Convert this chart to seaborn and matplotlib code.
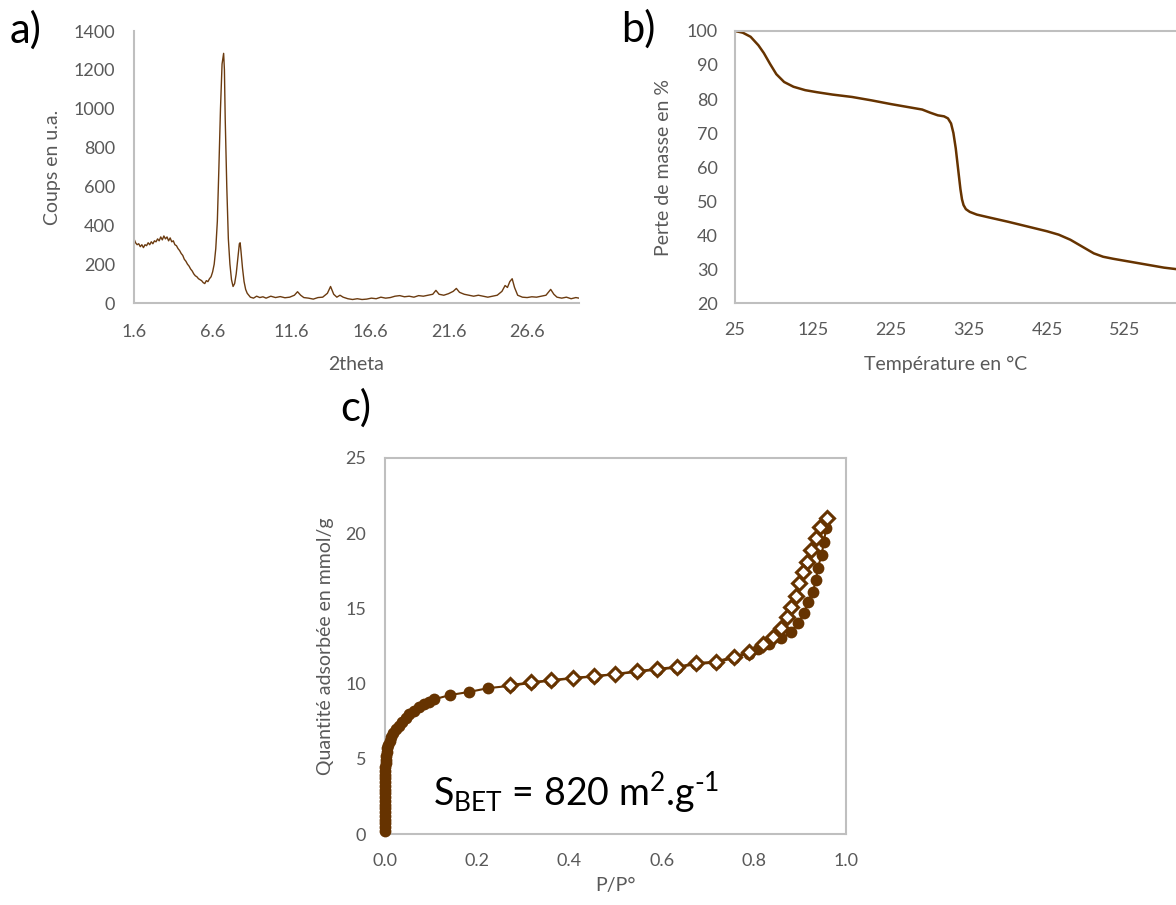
import matplotlib
matplotlib.use('Agg')
import numpy as np
import matplotlib.pyplot as plt
import seaborn as sns

# a) diffractogramme (2theta, coups)
xrd_2theta = [1.6, 1.7, 1.8, 1.9, 2.0, 2.1, 2.2, 2.3, 2.4, 2.5, 2.6, 2.7, 2.8, 2.9, 3.0,
              3.1, 3.2, 3.3, 3.4, 3.5, 3.6, 3.7, 3.8, 3.9, 4.0, 4.1, 4.2, 4.3, 4.4, 4.5,
              4.6, 4.7, 4.8, 4.9, 5.0, 5.1, 5.2, 5.3, 5.4, 5.5, 5.6, 5.7, 5.8, 5.9, 6.0,
              6.1, 6.2, 6.3, 6.4, 6.5, 6.6, 6.7, 6.8, 6.9, 7.0, 7.1, 7.2, 7.3, 7.35, 7.4,
              7.5, 7.6, 7.7, 7.8, 7.9, 8.0, 8.1, 8.2, 8.3, 8.35, 8.4, 8.5, 8.6, 8.7, 8.8,
              8.9, 9.0, 9.2, 9.4, 9.6, 9.8, 10.0, 10.3, 10.6, 10.9, 11.2, 11.5, 11.8, 12.0,
              12.2, 12.4, 12.7, 13.0, 13.3, 13.6, 13.9, 14.1, 14.3, 14.5, 14.7, 14.9, 15.2,
              15.5, 15.8, 16.1, 16.4, 16.7, 17.0, 17.3, 17.6, 17.9, 18.2, 18.5, 18.8, 19.1,
              19.4, 19.7, 20.0, 20.3, 20.6, 20.8, 21.0, 21.3, 21.6, 21.9, 22.1, 22.3, 22.6,
              22.9, 23.2, 23.5, 23.8, 24.1, 24.4, 24.7, 25.0, 25.2, 25.35, 25.5, 25.65, 25.8,
              26.0, 26.3, 26.6, 26.9, 27.2, 27.5, 27.8, 28.1, 28.3, 28.5, 28.8, 29.1, 29.4,
              29.7, 29.9]
xrd_counts = [330, 310, 300, 305, 290, 300, 285, 300, 295, 310, 300, 315, 305, 320, 315,
              330, 320, 340, 325, 345, 330, 340, 320, 335, 315, 320, 300, 295, 280, 270,
              255, 245, 225, 215, 200, 190, 175, 165, 150, 140, 135, 125, 120, 115, 105,
              100, 115, 110, 125, 135, 160, 200, 280, 420, 700, 1000, 1230, 1285, 1200, 950,
              600, 330, 200, 120, 85, 100, 150, 230, 305, 310, 270, 180, 110, 70, 50,
              40, 30, 25, 35, 28, 32, 25, 35, 28, 33, 27, 30, 40, 58,
              40, 28, 25, 20, 28, 30, 50, 85, 45, 30, 40, 30, 22,
              18, 22, 18, 20, 25, 22, 30, 25, 28, 35, 38, 32, 35,
              30, 38, 35, 40, 45, 65, 45, 40, 48, 60, 75, 55, 45,
              40, 35, 40, 35, 30, 35, 40, 60, 90, 80, 110, 125, 80,
              40, 30, 28, 32, 30, 35, 40, 70, 45, 30, 25, 30, 22,
              28, 25]

# b) ATG
tga_temp = [25, 35, 45, 55, 62, 70, 78, 88, 100, 115, 130, 150, 175, 200, 225, 250, 265,
            275, 285, 293, 298, 302, 305, 308, 311, 314, 316, 318, 321, 326, 335, 350,
            375, 400, 425, 440, 455, 470, 485, 497, 510, 530, 555, 575, 600]
tga_mass = [100, 99.5, 98.3, 95.8, 93.5, 90.3, 87.3, 85.0, 83.6, 82.6, 82.0, 81.3, 80.6,
            79.6, 78.5, 77.5, 76.9, 76.0, 75.2, 74.9, 74.3, 72.8, 70.0, 65.5, 59.5, 53.5,
            50.5, 48.8, 47.6, 46.8, 46.0, 45.2, 43.9, 42.5, 41.1, 40.1, 38.6, 36.6, 34.6,
            33.6, 33.0, 32.2, 31.2, 30.4, 29.7]

# c) isotherme N2 : adsorption / desorption
ads_p = [0, 0, 0, 0, 0, 0, 0, 0, 0.0001, 0.0001, 0.0001, 0.0002, 0.0002, 0.0003, 0.0004,
         0.0005, 0.0007, 0.0009, 0.0012, 0.0016, 0.0025, 0.0035, 0.0048, 0.0065, 0.010,
         0.013, 0.018, 0.023, 0.030, 0.037, 0.045, 0.053, 0.062, 0.073, 0.085, 0.095,
         0.106, 0.141, 0.183, 0.224, 0.271, 0.317, 0.361, 0.407, 0.453, 0.499, 0.546,
         0.590, 0.634, 0.675, 0.717, 0.757, 0.789, 0.810, 0.833, 0.859, 0.880, 0.896,
         0.909, 0.917, 0.928, 0.935, 0.939, 0.947, 0.952, 0.957]
ads_q = [0.2, 0.45, 0.7, 0.95, 1.2, 1.45, 1.7, 1.95, 2.2, 2.45, 2.7, 2.95, 3.2, 3.45, 3.7,
         3.95, 4.2, 4.45, 4.7, 4.95, 5.2, 5.45, 5.7, 5.95, 6.2,
         6.45, 6.7, 6.95, 7.2, 7.45, 7.7, 7.95, 8.2, 8.45, 8.65, 8.8,
         8.95, 9.24, 9.45, 9.7, 9.85, 10.05, 10.2, 10.35, 10.47, 10.62, 10.78,
         10.93, 11.07, 11.3, 11.4, 11.7, 12.0, 12.3, 12.6, 13.0, 13.4, 14.0,
         14.7, 15.4, 16.1, 16.9, 17.7, 18.55, 19.4, 20.35]
des_p = [0.959, 0.943, 0.935, 0.924, 0.915, 0.906, 0.899, 0.891, 0.880, 0.872, 0.859,
         0.841, 0.820, 0.789, 0.757, 0.717, 0.675, 0.634, 0.590, 0.546, 0.499, 0.453,
         0.407, 0.361, 0.317, 0.271]
des_q = [21.0, 20.4, 19.7, 18.9, 18.1, 17.4, 16.7, 15.8, 15.1, 14.4, 13.7,
         13.1, 12.6, 12.1, 11.8, 11.45, 11.37, 11.11, 10.98, 10.82, 10.64, 10.49,
         10.38, 10.23, 10.09, 9.89]

BROWN = '#663300'
LINE_BROWN = '#6B3B10'
AXIS_GREY = '#BFBFBF'
TEXT_GREY = '#595959'

sns.set_theme(style='white')
plt.rcParams['font.family'] = ['Lato', 'DejaVu Sans']
plt.rcParams['mathtext.fontset'] = 'custom'
plt.rcParams['mathtext.rm'] = 'Lato'
plt.rcParams['mathtext.it'] = 'Lato:italic'
plt.rcParams['axes.labelcolor'] = TEXT_GREY
plt.rcParams['axes.labelsize'] = 14

W, H = 1176, 905
fig = plt.figure(figsize=(W / 100, H / 100), dpi=100)


def px_axes(left, top, right, bottom):
    return fig.add_axes([left / W, 1 - bottom / H, (right - left) / W, (bottom - top) / H])


def style_axes(ax, spines, tick_len, xpad, ypad):
    for side in ['left', 'right', 'top', 'bottom']:
        ax.spines[side].set_visible(side in spines)
        ax.spines[side].set_color(AXIS_GREY)
        ax.spines[side].set_linewidth(1.5)
    ax.tick_params(axis='both', direction='in', length=tick_len, width=1.5,
                   color=AXIS_GREY, labelcolor=TEXT_GREY, labelsize=13)
    ax.tick_params(axis='x', pad=xpad)
    ax.tick_params(axis='y', pad=ypad)
    ax.grid(False)


# ---- a) ----
ax_a = px_axes(134, 31, 579, 303)
sns.lineplot(x=xrd_2theta, y=xrd_counts, ax=ax_a, color=LINE_BROWN, linewidth=1.0,
             estimator=None, sort=False)
ax_a.set_xlim(1.6, 29.9)
ax_a.set_ylim(0, 1400)
xt = np.arange(1.6, 29, 5)
ax_a.set_xticks(xt)
ax_a.set_xticklabels([f'{v:.1f}' for v in xt])
ax_a.set_yticks(range(0, 1401, 200))
style_axes(ax_a, ['left', 'bottom'], 0, 15, 13.5)
ax_a.set_xlabel('2theta')
ax_a.set_ylabel('Coups en u.a.')
ax_a.xaxis.set_label_coords(0.5, -0.195)
ax_a.yaxis.set_label_coords(-0.164, 0.5)

# ---- b) ----
ax_b = px_axes(735, 31, 1180, 303)
sns.lineplot(x=tga_temp, y=tga_mass, ax=ax_b, color=BROWN, linewidth=1.8,
             estimator=None, sort=False)
ax_b.set_xlim(25, 25 + (1180 - 735) / 0.78)
ax_b.set_ylim(20, 100)
ax_b.set_xticks(range(25, 526, 100))
ax_b.set_yticks(range(20, 101, 10))
style_axes(ax_b, ['left', 'bottom', 'top'], 3.6, 14, 12.5)
ax_b.set_xlabel('Température en °C')
ax_b.set_ylabel('Perte de masse en %')
ax_b.xaxis.set_label_coords(0.474, -0.195)
ax_b.yaxis.set_label_coords(-0.142, 0.5)

# ---- c) ----
ax_c = px_axes(385, 458, 846, 834)
sns.lineplot(x=ads_p, y=ads_q, ax=ax_c, color=BROWN, linewidth=1.5, estimator=None,
             sort=False, marker='o', markersize=8.5, markeredgewidth=0, clip_on=False,
             zorder=3)
sns.lineplot(x=des_p, y=des_q, ax=ax_c, color=BROWN, linewidth=1.5, estimator=None,
             sort=False, marker='D', markersize=6.8, markerfacecolor='white',
             markeredgecolor=BROWN, markeredgewidth=2.2, clip_on=False, zorder=4)
ax_c.set_xlim(0, 1.0)
ax_c.set_ylim(0, 25)
ax_c.set_xticks(np.arange(0, 1.01, 0.2))
ax_c.set_xticklabels([f'{v:.1f}' for v in np.arange(0, 1.01, 0.2)])
ax_c.set_yticks(range(0, 26, 5))
style_axes(ax_c, ['left', 'bottom', 'top', 'right'], 3.6, 14, 13.5)
ax_c.set_xlabel('P/P°')
ax_c.set_ylabel('Quantité adsorbée en mmol/g')
ax_c.xaxis.set_label_coords(0.5, -0.115)
ax_c.yaxis.set_label_coords(-0.111, 0.5)
ax_c.text(0.104, 1.86, 'S$_{\\mathrm{BET}}$ = 820 m$^{2}$.g$^{\u20101}$', fontsize=27,
          color='black', ha='left', va='baseline')

# panel letters
fig.text(10 / W, 1 - 43 / H, 'a)', fontsize=30, color='black', ha='left', va='baseline')
fig.text(621 / W, 1 - 42 / H, 'b)', fontsize=30, color='black', ha='left', va='baseline')
fig.text(340 / W, 1 - 421 / H, 'c)', fontsize=30, color='black', ha='left', va='baseline')

fig.savefig('out.png', dpi=100)
